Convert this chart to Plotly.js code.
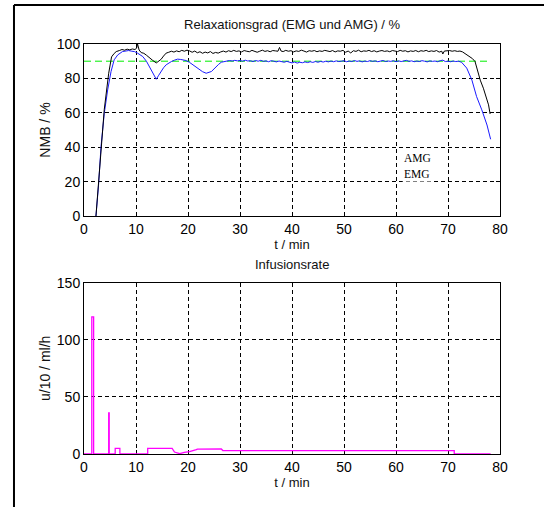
<!DOCTYPE html>
<html>
<head>
<meta charset="utf-8">
<script src="https://cdn.plot.ly/plotly-3.0.1.min.js"></script>
<style>
html,body{margin:0;padding:0;background:#fff;}
#chart{width:544px;height:507px;}
</style>
</head>
<body>
<div id="chart"></div>
<script>
// ---- Relaxationsgrad: AMG (black) ----
var tAMG = [2.3,3.0,3.9,4.75,5.3,5.8,6.2,6.8,7.3,7.8,8.3,8.8,9.3,9.8,10.1,10.3,10.6,11.0,11.5,12.0,12.6,13.2,13.9,14.4,14.8,15.3,15.8,16.3,16.8,17.3,17.8,18.3,18.8,19.3,19.8,20.3,
 20.8,21.3,21.8,22.3,22.8,23.3,23.8,24.3,24.8,25.3,25.8,26.3,26.8,27.3,27.8,28.3,28.8,29.3,29.8,30.3,30.8,31.3,31.8,32.3,32.8,33.3,33.8,34.3,34.8,35.3,35.8,36.3,36.8,37.3,37.6,37.9,38.3,38.8,39.3,39.8,
 40.3,40.8,41.3,41.8,42.3,42.8,43.3,43.8,44.3,44.8,45.3,45.8,46.3,46.8,47.3,47.8,48.3,48.8,49.3,49.8,50.3,50.8,51.3,51.8,52.3,52.8,53.3,53.8,54.3,54.8,55.3,55.8,56.3,56.8,57.3,57.8,58.3,58.8,59.3,59.8,
 60.3,60.8,61.3,61.8,62.3,62.8,63.3,63.8,64.3,64.8,65.3,65.8,66.3,66.8,67.3,67.8,68.3,68.8,69.0,69.3,69.8,70.3,70.8,71.3,71.8,72.3,72.8,73.6,74.2,74.7,75.2,75.7,76.2,76.8,77.3,77.8,78.1];
var vAMG = [0,27,62,83,92.5,94.5,95.6,96.2,96.8,96.4,97,96.6,97.1,96.8,97.5,100,96.5,95,94.6,93.5,91.8,90.5,89,90,91,93,94.7,95.2,95.8,95.3,96,95.5,96.3,95.8,96.4,96,
 95.2,95.9,94.9,95.5,94.6,95.3,94.8,95.6,94.5,95.1,94.7,95.4,95.9,95.3,96.1,95.6,96.3,95.7,96.0,95.4,96.2,95.8,95.5,96.3,95.9,95.2,95.8,96.4,95.7,96.1,95.5,96.2,96.0,95.8,98.0,95.9,95.6,96.3,95.8,96.1,
 95.4,96.0,95.7,96.4,95.9,95.3,96.1,95.8,96.2,95.5,96.0,95.7,96.3,95.9,95.6,96.2,95.4,96.0,95.8,96.3,95.2,95.9,94.8,96.1,95.7,96.4,95.5,96.0,95.8,96.3,95.6,96.1,95.4,95.9,96.2,95.7,96.0,95.5,96.2,95.9,
 95.6,96.3,95.8,96.1,95.4,96.0,95.7,96.2,95.5,96.1,95.8,96.3,95.6,96.0,95.7,96.2,95.3,95.8,94.2,95.9,96.0,96.2,95.8,96.1,95.7,95.9,95.4,93.7,92.3,91.5,89.8,84,79,74.3,69,64.6,59.3];

// ---- Relaxationsgrad: EMG (blue) ----
var tEMG = [2.3,2.8,3.27,3.9,4.55,5.2,5.8,6.5,7.4,8.0,8.6,9.2,9.7,10.3,10.8,11.3,12.0,12.6,13.2,13.9,14.3,14.8,15.3,15.8,16.3,16.8,17.4,18.0,18.6,19.1,19.6,20.3,20.9,21.5,22.2,22.8,23.5,24.0,24.5,25.0,25.4,25.9,26.4,27.0,27.5,28.0,28.5,29.0,29.5,
 30.0,30.5,31.0,31.5,32.0,32.5,33.0,33.5,34.0,34.5,35.0,35.5,36.0,36.5,37.0,37.5,38.0,38.5,39.0,39.5,40.0,40.5,41.0,41.5,42.0,42.5,43.0,43.5,44.0,44.5,45.0,45.5,46.0,46.5,47.0,47.5,48.0,48.5,49.0,49.5,
 50.0,50.5,51.0,51.5,52.0,52.5,53.0,53.5,54.0,54.5,55.0,55.5,56.0,56.5,57.0,57.5,58.0,58.5,59.0,59.5,60.0,60.5,61.0,61.5,62.0,62.5,63.0,63.5,64.0,64.5,65.0,65.5,66.0,66.5,67.0,67.5,68.0,68.5,69.0,69.5,
 70.0,70.5,71.0,71.5,72.0,72.6,73.6,74.6,75.5,76.5,77.5,78.2];
var vEMG = [0,18,40.3,59.7,73.3,84,90.8,93.7,95.6,95.9,96.2,95.8,95.6,94.7,93.8,92.7,90,86.9,83.5,79.5,81.5,84,86.2,87.9,89,89.8,90.6,91.2,91.0,90.8,90.4,89.3,87.9,86.5,85,83.9,83,83.3,84,85.5,86.9,88.2,89.4,89.8,90.1,90.4,90.1,90.5,90.2,
 90.4,90.0,90.6,90.1,90.3,89.8,90.4,90.0,90.5,89.9,90.2,89.7,90.3,90.0,89.6,90.1,89.8,89.4,89.9,89.3,89.0,89.5,88.9,89.4,89.1,89.6,89.2,89.7,89.3,89.8,89.4,89.9,89.5,90.0,89.6,90.1,89.7,90.2,89.8,90.0,
 90.3,89.7,90.1,89.8,90.4,89.9,90.2,89.6,90.1,89.8,90.3,89.9,90.2,89.7,90.0,90.4,89.8,90.1,89.9,90.3,89.7,90.2,89.8,90.0,90.5,89.9,90.2,89.7,90.1,89.8,90.3,90.0,89.6,90.2,89.9,90.1,89.7,90.3,90.6,89.8,
 90.0,89.7,90.1,89.8,90.0,89.4,86,79,69.4,61.7,52.9,44.6];

// ---- reference line 90 % (green) ----
var tRef = [0, 78.2];
var vRef = [90, 90];

// ---- Infusionsrate (magenta) ----
var tInf = [0,1.5,1.5,1.85,1.85,4.75,4.75,4.85,4.85,6.0,6.0,6.9,6.9,12.25,12.25,16.95,17.4,18.4,19.3,20.3,21.6,21.8,26.4,26.7,71.2,71.2,78.2];
var uInf = [0,0,120,120,0,0,36,36,0,0,5,5,0,0,5,5,1.7,0.3,1.4,2,3.8,4.2,4.4,3,3,0,0];

// ---- ticks / labels ----
var xTicks = [0,10,20,30,40,50,60,70,80];
var y1Ticks = [0,20,40,60,80,100];
var y2Ticks = [0,50,100,150];

var tickFont = {family: 'Liberation Sans Narrow, Arial Narrow, Liberation Sans, Arial, sans-serif', size: 14, color: '#000'};
var txtFont = {family: 'Liberation Sans, Arial, sans-serif', size: 13, color: '#111'};

var traces = [
  {x: tRef, y: vRef, xaxis: 'x', yaxis: 'y', mode: 'lines', line: {color: '#00ee00', width: 1, dash: '7px,4px'}, name: 'Ref', hoverinfo: 'skip'},
  {x: tEMG, y: vEMG, xaxis: 'x', yaxis: 'y', mode: 'lines', line: {color: '#1a1aff', width: 1}, name: 'EMG'},
  {x: tAMG, y: vAMG, xaxis: 'x', yaxis: 'y', mode: 'lines', line: {color: '#000000', width: 1}, name: 'AMG'},
  {x: tInf, y: uInf, xaxis: 'x2', yaxis: 'y2', mode: 'lines', line: {color: '#ff00ff', width: 1.3}, name: 'Infusionsrate', cliponaxis: false}
];

function xax(anchor, layer) {
  return {
    anchor: anchor, domain: [0, 1], range: [0, 80], tickvals: xTicks, ticktext: xTicks.map(String),
    showline: true, linecolor: '#000', linewidth: 1, mirror: 'ticks', layer: layer,
    ticks: 'inside', ticklen: 4, tickcolor: '#000',
    showgrid: true, gridcolor: '#000', gridwidth: 1, griddash: '4px,3px',
    zeroline: false, tickfont: tickFont,
    title: {text: 't / min', font: txtFont, standoff: 4}
  };
}

var layout = {
  width: 544, height: 507,
  margin: {l: 84, r: 44, t: 44, b: 53, pad: 0},
  paper_bgcolor: '#fff', plot_bgcolor: '#fff',
  showlegend: false,
  title: {text: 'Relaxationsgrad (EMG und AMG) / %', font: txtFont, x: 0.537, xanchor: 'center', y: 0.951, yanchor: 'middle'},
  xaxis: xax('y', 'above traces'),
  xaxis2: xax('y2', 'below traces'),
  yaxis: {
    domain: [0.5805, 1], range: [0, 100], tickvals: y1Ticks, ticktext: y1Ticks.map(String),
    showline: true, linecolor: '#000', linewidth: 1, mirror: 'ticks',
    ticks: 'inside', ticklen: 4, tickcolor: '#000',
    showgrid: true, gridcolor: '#000', gridwidth: 1, griddash: '4px,3px',
    zeroline: false, tickfont: tickFont,
    title: {text: 'NMB / %', font: {family: txtFont.family, size: 14, color: '#111'}, standoff: 2}
  },
  yaxis2: {
    domain: [0, 0.4178], range: [0, 150], tickvals: y2Ticks, ticktext: y2Ticks.map(String),
    showline: true, linecolor: '#000', linewidth: 1, mirror: 'ticks', layer: 'below traces',
    ticks: 'inside', ticklen: 4, tickcolor: '#000',
    showgrid: true, gridcolor: '#000', gridwidth: 1, griddash: '4px,3px',
    zeroline: false, tickfont: tickFont,
    title: {text: 'u/10 / ml/h', font: {family: txtFont.family, size: 14, color: '#111'}, standoff: 2}
  },
  annotations: [
    {xref: 'paper', yref: 'paper', x: 0.5, y: 0.461, text: 'Infusionsrate', showarrow: false, font: txtFont, xanchor: 'center', yanchor: 'middle'},
    {xref: 'x', yref: 'y', x: 61.2, y: 34, text: 'AMG', showarrow: false, xanchor: 'left', yanchor: 'middle', bgcolor: '#fff',
     font: {family: 'Liberation Serif, Times New Roman, serif', size: 11.5, color: '#000'}},
    {xref: 'x', yref: 'y', x: 61.2, y: 24.5, text: 'EMG', showarrow: false, xanchor: 'left', yanchor: 'middle', bgcolor: '#fff',
     font: {family: 'Liberation Serif, Times New Roman, serif', size: 11.5, color: '#000'}}
  ],
  shapes: [
    {type: 'line', xref: 'paper', yref: 'paper', x0: -0.1683, x1: -0.1683, y0: 1.0951, y1: -0.14, line: {color: '#000', width: 2}},
    {type: 'line', xref: 'paper', yref: 'paper', x0: -0.1683, x1: 1.2, y0: 1.0951, y1: 1.0951, line: {color: '#000', width: 2}}
  ]
};

Plotly.newPlot('chart', traces, layout, {displayModeBar: false, staticPlot: true});
</script>
</body>
</html>
